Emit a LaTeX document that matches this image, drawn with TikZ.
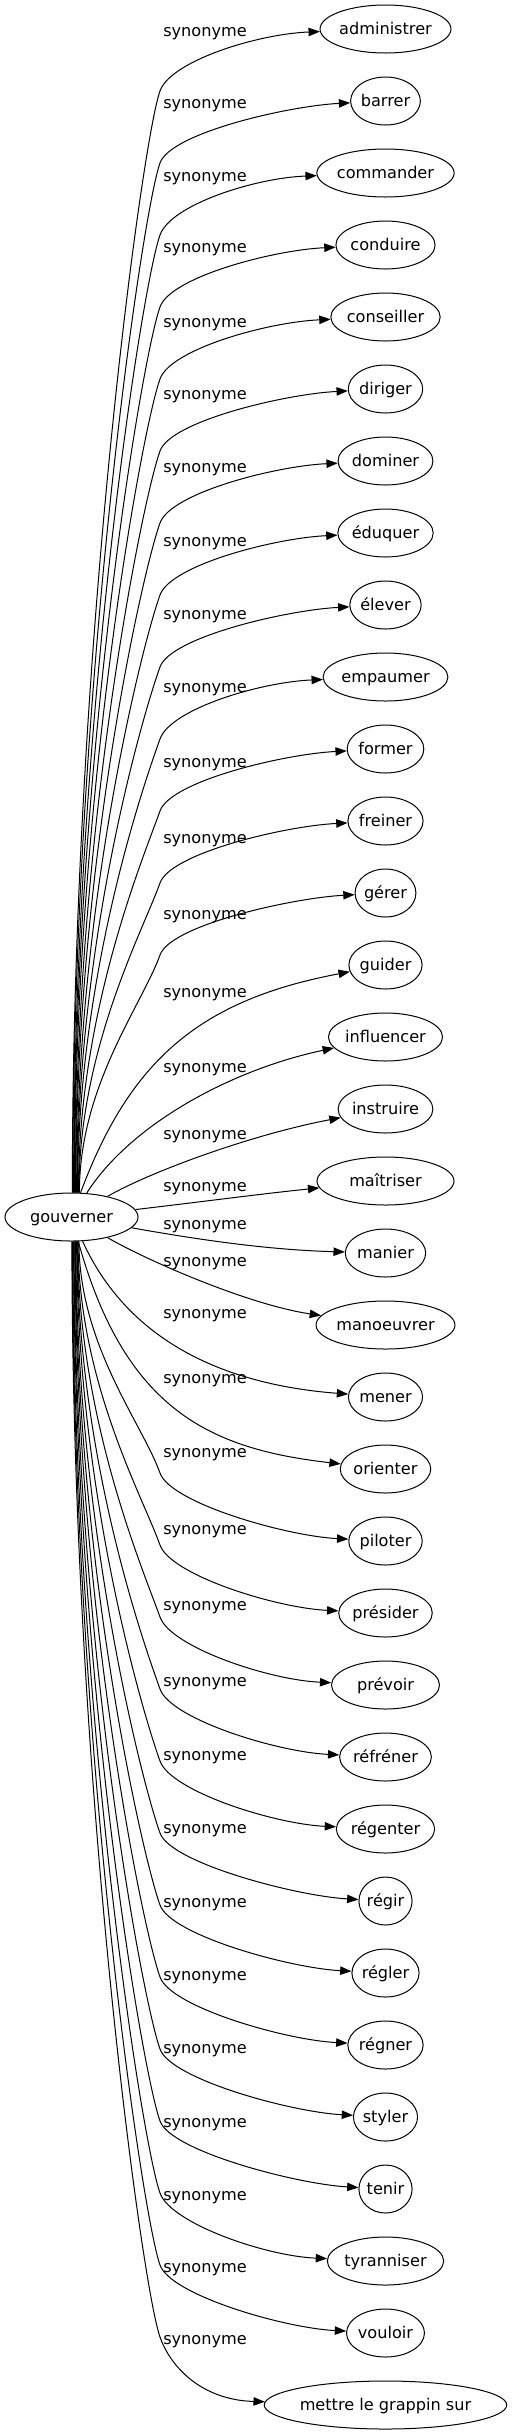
\documentclass[tikz,border=0pt]{standalone}
\usepackage{fontspec}
\newfontfamily\dvsans{DejaVu Sans}
\usetikzlibrary{arrows.meta,shapes.geometric,calc}
\newlength\wordwd
\newcommand\wordfont{\dvsans\fontsize{12.1pt}{14pt}\selectfont}
\begin{document}
\begin{tikzpicture}[x=0.75pt,y=-0.75pt,
  word/.style={ellipse,draw,line width=0.75pt,inner sep=0pt,minimum height=36pt,
    text height=9.75pt,text depth=1.5pt,font=\wordfont},
  lab/.style={inner sep=0pt,font=\wordfont},
  link/.style={draw,line width=0.75pt,-{Triangle[length=8.5pt,width=6.3pt]}}]
\useasboundingbox (0,0) rectangle (512,2435);

% source node
\node[word,minimum width=99.75pt] (g) at (71.5,1217) {gouverner};

% target nodes
\foreach \i/\wtext/\wo in {0/administrer/0,1/barrer/0,2/commander/0,3/conduire/0,
  4/conseiller/0,5/diriger/0,6/dominer/0,7/éduquer/0,8/élever/0,9/empaumer/0,
  10/former/0,11/freiner/0,12/gérer/0,13/guider/0,14/influencer/0,15/instruire/0,
  16/maîtriser/137,17/manier/0,18/manoeuvrer/0,19/mener/0,20/orienter/0,
  21/piloter/0,22/présider/0,23/prévoir/108,24/réfréner/0,25/régenter/0,
  26/régir/0,27/régler/0,28/régner/0,29/styler/0,30/tenir/0,31/tyranniser/0,
  32/vouloir/0,33/mettre le grappin sur/0}{
  \ifnum\wo=0
    \settowidth{\wordwd}{\wordfont \wtext}%
    \pgfmathsetmacro\ew{1.244*\wordwd+22.5}%
  \else
    \pgfmathsetmacro\ew{0.75*\wo}%
  \fi
  \node[word,minimum width=\ew pt] (n\i) at (385.5,{29+72*\i}) {\wtext};
}

% edge labels
\foreach \i/\L in {0/32,1/104,2/177,3/248,4/323,5/395,6/468,7/542,8/615,9/688,
  10/763,11/839,12/915,13/993,14/1068,15/1135,16/1187,17/1225,18/1262,19/1314,
  20/1379,21/1453,22/1530,23/1606,24/1682,25/1756,26/1829,27/1903,28/1976,
  29/2049,30/2123,31/2196,32/2268,33/2340}{
  \node[lab,anchor=base] (s\i) at (205,\L+4.5) {synonyme};
}

% upper far edges
\foreach \i in {0,...,12}{
  \pgfmathsetmacro\yy{29+72*\i}
  \pgfmathsetmacro\ky{\yy+62}
  \pgfmathsetmacro\sx{72+0.6*\i}
  \pgfmathsetmacro\ay{(1217+\ky)/2}
  \pgfmathsetmacro\th{atan2(24,\sx-71.5)}
  \coordinate (k\i) at (160,\ky);
  \draw[link] (g.\th) .. controls (\sx,\ay) and (142,\ky+50) .. (k\i)
    .. controls (170.5,\ky-30) and ($(n\i.west)+(-62,5)$) .. (n\i);
}

% lower far edges
\foreach \i in {21,...,33}{
  \pgfmathsetmacro\yy{29+72*\i}
  \pgfmathsetmacro\ky{\yy-68}
  \pgfmathsetmacro\sx{72+0.58*(33-\i)}
  \pgfmathsetmacro\ay{(1217+\ky)/2}
  \pgfmathsetmacro\th{360-atan2(24,\sx-71.5)}
  \coordinate (k\i) at (160,\ky);
  \draw[link] (g.\th) .. controls (\sx,\ay) and (142,\ky-50) .. (k\i)
    .. controls (170.5,\ky+30) and ($(n\i.west)+(-62,-5)$) .. (n\i);
}

% middle edges
\draw[link] (g) .. controls (130,1060) and (200,1000) .. (n13);
\draw[link] (g) .. controls (130,1125) and (230,1070) .. (n14);
\draw[link] (g) .. controls (150,1172) and (250,1135) .. (n15);
\draw[link] (g) .. controls (200,1202) and (260,1194) .. (n16);
\draw[link] (g) .. controls (200,1240) and (270,1250) .. (n17);
\draw[link] (g) .. controls (150,1262) and (250,1305) .. (n18);
\draw[link] (g) .. controls (130,1345) and (230,1385) .. (n19);
\draw[link] (g) .. controls (125,1410) and (210,1449) .. (n20);
\end{tikzpicture}
\end{document}
